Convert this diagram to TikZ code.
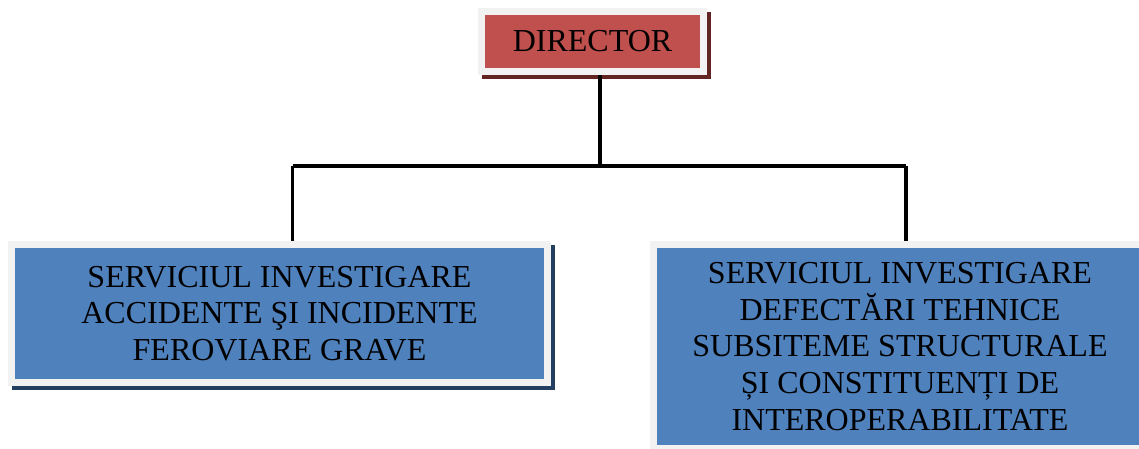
\documentclass[tikz,border=0pt]{standalone}
\usepackage{fontspec}
\setmainfont{Liberation Serif}
\usetikzlibrary{backgrounds}
\definecolor{dirred}{HTML}{C0504D}
\definecolor{dirshadow}{HTML}{632523}
\definecolor{svcblue}{HTML}{4F81BD}
\definecolor{svcshadow}{HTML}{243F60}
\definecolor{framegrey}{HTML}{F2F2F2}
\tikzset{
  orgbox/.style={draw=framegrey, line width=7pt, inner sep=0pt, align=center,
    font=\fontsize{32}{36.7}\selectfont, text=black},
  link/.style={line width=3.8pt, draw=black, line cap=butt}
}
\begin{document}
\begin{tikzpicture}[x=1pt,y=-1pt]
\useasboundingbox (0,0) rectangle (1139,449);
\node[orgbox, fill=dirred, minimum width=222pt, minimum height=60pt] (d) at (592.5,41.5) {DIRECTOR};
\node[orgbox, fill=svcblue, minimum width=536pt, minimum height=138pt] (l) at (279.5,313.5)
  {SERVICIUL INVESTIGARE\\ACCIDENTE ŞI INCIDENTE\\FEROVIARE GRAVE};
\node[orgbox, fill=svcblue, minimum width=493pt, minimum height=204pt] (r) at (900,346.5)
  {SERVICIUL INVESTIGARE\\DEFECTĂRI TEHNICE\\SUBSITEME STRUCTURALE\\ȘI CONSTITUENȚI DE\\INTEROPERABILITATE};
\begin{scope}[on background layer]
  \fill[white] (0,0) rectangle (1139,449);
  \fill[dirshadow] ([shift={(4,4)}]d.south west) rectangle ([shift={(4,4)}]d.north east);
  \fill[svcshadow] ([shift={(4,4)}]l.south west) rectangle ([shift={(4,4)}]l.north east);
  \fill[svcshadow] ([shift={(4,4)}]r.south west) rectangle ([shift={(4,4)}]r.north east);
\end{scope}
\coordinate (j) at (600,166);
\coordinate (lj) at (292.5,166);
\coordinate (rj) at (906,166);
\draw[link] (j |- d.south) -- (j);
\draw[link] (lj) -- (rj);
\draw[link] (lj) -- (lj |- l.north);
\draw[link] (rj) -- (rj |- r.north);
\end{tikzpicture}
\end{document}
